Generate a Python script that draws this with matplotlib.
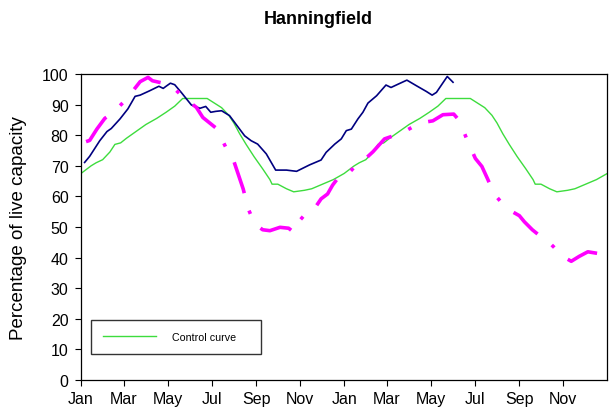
import numpy as np
import matplotlib
matplotlib.use("Agg")
import matplotlib.pyplot as plt
import matplotlib.dates as mdates

plt.rcParams['font.family'] = ['Liberation Sans', 'DejaVu Sans']

start = np.datetime64('2001-01-01')

# control curve (day number from 1 Jan of first year, % capacity)
control_days = [0, 14, 21, 30, 40, 47, 55, 63, 75, 90, 105, 118, 130, 141, 175, 185, 195, 205,
                212, 220, 229, 240, 252, 262, 265, 273, 285, 295, 310, 320, 335, 350,
                365, 379, 386, 395, 405, 412, 420, 428, 440, 455, 470, 483, 495, 506, 540, 550,
                560, 570, 577, 585, 594, 605, 617, 627, 630, 638, 650, 660, 675, 685, 700, 715, 730]
control_vals = [67.5, 70, 71, 72, 74.5, 77, 77.5, 79, 81, 83.5, 85.5, 87.5, 89.5, 92, 92, 90.5, 89, 86.5,
                84, 80.5, 77, 73, 69, 65.5, 64, 64, 62.5, 61.5, 62, 62.5, 64, 65.5,
                67.5, 70, 71, 72, 74.5, 77, 77.5, 79, 81, 83.5, 85.5, 87.5, 89.5, 92, 92, 90.5,
                89, 86.5, 84, 80.5, 77, 73, 69, 65.5, 64, 64, 62.5, 61.5, 62, 62.5, 64, 65.5, 67.5]

# actual storage
actual_days = [5, 12, 26, 36, 42, 54, 65, 75, 82, 95, 108, 114, 118, 124, 130, 139, 153, 165, 173,
               180, 187, 195, 206, 213, 227, 236, 245, 257, 270, 285, 299, 317, 333, 340, 352,
               361, 368, 375, 384, 391, 398, 410, 423, 430, 440, 452, 465, 479, 487, 493, 508, 516]
actual_vals = [71.1, 73.1, 78.2, 81.2, 82.2, 85.3, 88.6, 92.7, 93.1, 94.5, 96, 95.3, 96, 97, 96.5,
               94, 89.9, 88.8, 89.4, 87.5, 87.8, 88, 86.4, 84.2, 79.8, 78.2, 77.1, 73.9, 68.6, 68.6,
               68.2, 70.3, 71.9, 74.4, 77.1, 78.8, 81.5, 82, 85.3, 87.5, 90.5, 92.9, 96.4, 95.6,
               96.7, 98, 96.2, 94.3, 93.1, 94, 99.2, 97.3]

# other scenario (magenta dash-dot)
scen_days = [7, 12, 22, 33, 45, 61, 72, 82, 93, 99, 114, 128, 142, 160, 169, 188, 202, 211, 218,
             225, 232, 241, 252, 262, 276, 288, 295, 301, 311, 324, 333, 342, 349, 359, 370, 382,
             393, 405, 421, 437, 451, 470, 488, 502, 517, 524, 530, 536, 547, 556, 564, 573, 584,
             596, 608, 615, 626, 636, 647, 656, 668, 680, 691, 703, 716]
scen_vals = [77.9, 78.3, 82, 85.5, 87.5, 91.3, 94.5, 97.5, 98.9, 97.8, 97, 95.6, 92.4, 89.1, 85.8,
             82.2, 75.5, 72.2, 67.3, 62.4, 55.9, 51, 49.1, 48.8, 49.9, 49.6, 48.3, 51.5, 54.2,
             56.1, 59.2, 60.8, 63.7, 66.8, 67.3, 70.3, 72, 74.6, 78.8, 80.1, 81.5, 84, 84.7, 86.7,
             86.9, 85, 81.7, 78.2, 72.4, 69.8, 65.7, 60.8, 57.8, 55.3, 53.7, 51.7, 49.1, 47.2,
             45.5, 43.4, 40.4, 38.8, 40.4, 41.9, 41.4]

to_dates = lambda d: start + np.array(d).astype('timedelta64[D]')

fig = plt.figure(figsize=(6.1, 4.14), dpi=100)
ax = fig.add_axes([0.1328, 0.0797, 0.8622, 0.7391])

ax.plot(to_dates(control_days), control_vals, color='#3ddc3d', lw=1.0, label='Control curve')
ax.plot(to_dates(actual_days), actual_vals, color='#000080', lw=1.2)
ax.plot(to_dates(scen_days), scen_vals, color='#ff00ff', lw=2.6,
        dashes=(9, 5, 1, 5))

ax.set_xlim(np.datetime64('2001-01-01'), np.datetime64('2002-12-31T12'))
ax.set_ylim(0, 100)
ax.set_yticks(range(0, 101, 10))
ax.xaxis.set_major_locator(mdates.MonthLocator(bymonth=[1, 3, 5, 7, 9, 11]))
ax.xaxis.set_major_formatter(mdates.DateFormatter('%b'))
ax.tick_params(labelsize=11.5, length=4, width=0.8, direction='out')
ax.tick_params(axis='y', pad=5)
ax.tick_params(axis='x', pad=4)
for s in ax.spines.values():
    s.set_linewidth(0.9)

ax.set_ylabel('Percentage of live capacity', fontsize=13.5)
ax.yaxis.set_label_coords(-0.103, 0.5)
fig.text(0.522, 0.952, 'Hanningfield', fontsize=13, fontweight='bold', ha='center', va='center')

ax.legend(loc='lower left', bbox_to_anchor=(0.019, 0.085, 0.323, 0.121), mode='expand',
          borderaxespad=0, fancybox=False, edgecolor='#333333', framealpha=1,
          fontsize=7.7, handlelength=5, handletextpad=1.5, borderpad=1.1)

fig.savefig('out.png')
